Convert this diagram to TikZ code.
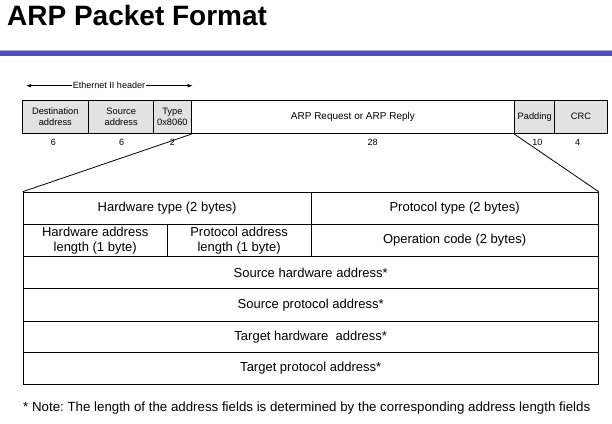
\documentclass[tikz,border=0pt]{standalone}
\usepackage{fontspec}
\setmainfont{Liberation Sans}
\usetikzlibrary{arrows.meta}
\definecolor{barlight}{RGB}{80,80,190}
\definecolor{bardark}{RGB}{38,38,130}
\definecolor{fieldgray}{RGB}{226,226,226}
\frenchspacing
\begin{document}
\begin{tikzpicture}[x=1pt,y=-1pt,
  field/.style={draw=black, line width=0.8pt, fill=fieldgray, inner sep=0pt, anchor=north west, align=center, minimum height=33.8pt, font=\fontsize{9.3}{10.6}\selectfont},
  cell/.style={draw=black, line width=1pt, inner sep=0pt, anchor=north west, align=center, font=\fontsize{13}{15.5}\selectfont},
  num/.style={font=\fontsize{9}{10}\selectfont, inner sep=0pt},
  conn/.style={line width=0.8pt},
  tip/.style={-{Latex[length=5pt,width=3.5pt]}, line width=0.6pt}
]
\useasboundingbox (0,0) rectangle (612,423);
% title
\node[anchor=base west, inner sep=0pt, font=\bfseries\fontsize{28}{30}\selectfont] (title) at (7,25) {ARP Packet Format};
% blue bar
\shade[left color=barlight, middle color=bardark, right color=barlight] (0,50) rectangle (612,55.5);
\fill[barlight!50!white] (0,50) rectangle (612,51);
% ethernet header arrow
\node[font=\fontsize{9}{10}\selectfont, inner sep=1pt, fill=white] (eth) at (109,85.7) {Ethernet II header};
\coordinate (el) at (26,85.7);
\coordinate (er) at (192.7,85.7);
\draw[tip] (eth.west) -- (el);
\draw[tip] (eth.east) -- (er);
% packet row
\node[field, minimum width=66.8pt] (dst) at (21.5,99.5) {Destination\\address};
\node[field, minimum width=65pt] (src) at (88.3,99.5) {Source\\address};
\node[field, minimum width=37.4pt] (typ) at (153.3,99.5) {Type\\0x8060};
\node[field, fill=white, minimum width=323.6pt, font=\fontsize{10}{12}\selectfont] (arp) at (190.7,99.5) {ARP Request or ARP Reply};
\node[field, minimum width=40pt] (pad) at (514.3,99.5) {Padding};
\node[field, minimum width=52.4pt] (crc) at (554.3,99.5) {CRC\vphantom{g}};
% sizes
\node[num] (n1) at (53.3,142.7) {6};
\node[num] (n2) at (121.7,142.7) {6};
\node[num] (n3) at (172.3,142.7) {2};
\node[num] (n4) at (372.7,142.7) {28};
\node[num] (n5) at (537.3,142.7) {10};
\node[num] (n6) at (577.7,142.7) {4};
% table
\node[cell, minimum width=287.8pt, minimum height=32.3pt] (hw) at (22.7,191.7) {Hardware type (2 bytes)};
\node[cell, minimum width=287.2pt, minimum height=32.3pt] (pt) at (310.5,191.7) {Protocol type (2 bytes)};
\node[cell, minimum width=144pt, minimum height=32pt] (hal) at (22.7,224) {Hardware address\\length (1 byte)};
\node[cell, minimum width=143.8pt, minimum height=32pt] (pal) at (166.7,224) {Protocol address\\length (1 byte)};
\node[cell, minimum width=287.2pt, minimum height=32pt] (op) at (310.5,224) {Operation code (2 bytes)};
\node[cell, minimum width=575pt, minimum height=32pt] (sha) at (22.7,256) {Source hardware address*};
\node[cell, minimum width=575pt, minimum height=32.7pt] (spa) at (22.7,288) {Source protocol address*};
\node[cell, minimum width=575pt, minimum height=31.3pt] (tha) at (22.7,320.7) {Target hardware\ \ address*};
\node[cell, minimum width=575pt, minimum height=32pt] (tpa) at (22.7,352) {Target protocol address*};
% expansion lines
\draw[conn] (typ.south east) -- (hw.north west);
\draw[conn] (pad.south west) -- (pt.north east);
% note
\node[anchor=west, inner sep=0pt, font=\fontsize{13.3}{15}\selectfont] (note) at (23,408) {* Note: The length of the address fields is determined by the corresponding address length fields};
\end{tikzpicture}
\end{document}
